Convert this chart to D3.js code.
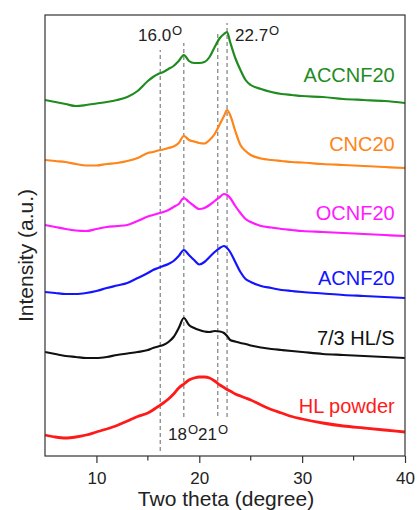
<!DOCTYPE html>
<html>
<head>
<meta charset="utf-8">
<script src="https://cdn.jsdelivr.net/npm/d3@7"></script>
<style>
  html, body { margin: 0; padding: 0; background: #fff; }
  svg { display: block; font-family: "Liberation Sans", Arial, sans-serif; }
</style>
</head>
<body>
<svg id="chart" width="417" height="510"></svg>
<script>
// Two theta grid (degree)
const twoTheta = [5,6,7,8,9,10,11,12,13,14,15,15.5,16,16.5,17,17.5,18,18.5,19,19.5,20,20.5,21,21.5,22,22.4,22.7,23,23.5,24,24.5,25,26,27,28,29,30,32,34,36,38,40];

// Offset (stacked) intensities, a.u.
const accnf20 = [356,354,352,350,351,352.5,354,356,359,365,375,379,382,384,387,390,395,401,395,393,393,394,399,409,418,422,424,414,398,386,376,371,367,364,362,361,360,359,357,356,355,353];
const cnc20   = [296,295,294,292,290.5,290.5,292,293,295,298,303,304,305.5,306.5,308,309.5,313,320,316,314.5,313,312.5,316,322,332,340,346,341,325,311,305,301,297.5,296,295,294,293.5,292,291,290,289,288];
const ocnf20  = [231,229,227,225.5,225,227,229,230,231,235,239.5,241,242.5,244,246,249,252,258,254,250,247,248,251,255,259,262,261,258,250,243,237,234,230,228.5,227,226,225,224,223,222,221,220];
const acnf20  = [164,163,162,162,163,165,168,170.5,173,178,183,186,188,190,192,195,200,206,201,196,191.5,194,199,204,208,210,208,204,194,184,177,174,170,168,166,165,164,162.5,161,160,159,158];
const hls73   = [104,102,100,99,98,98,99,101,102.5,104,106,108,109.5,111,114,119,128,138,131,128,126,124.5,124,125,124.5,123,120,116,114.5,113,112,110.5,108.5,107,106,105,104,102,101,100,99,98];
const hlPowder= [21,19,18,19,21,24,27,30.5,35,39.5,43,46,49.5,53,57,62,68,72,76,78,79,79,78,75,71,68.5,66.5,65,62,60,58,56,51,46.5,43,39.5,37,33,30,28,26,24];

const seriesNames  = ["ACCNF20","CNC20","OCNF20","ACNF20","7/3 HL/S","HL powder"];
const seriesValues = [accnf20, cnc20, ocnf20, acnf20, hls73, hlPowder];
const seriesColors = ["#1f8c1f","#ff8419","#ff1aff","#1414ff","#111111","#ff1a1a"];
const labelY       = [374, 305.5, 236, 171, 111, 43];   // label baseline, a.u.

// Reference dashed lines: [position, from, to]
const refX    = [16.2, 18.5, 21.8, 22.7];
const refFrom = [5, 39, 40, 39];
const refTo   = [406, 413, 423, 433];

const xTicks = [10, 20, 30, 40];
const xMinor = [15, 25, 35];

const margin = {left: 45, right: 12, top: 15, bottom: 54};
const W = 417, H = 510;
const x = d3.scaleLinear().domain([5, 40]).range([margin.left, W - margin.right]);
const y = d3.scaleLinear().domain([0, 441]).range([H - margin.bottom, margin.top]);

const svg = d3.select("#chart");

// dashed reference lines
svg.append("g").selectAll("line").data(refX).join("line")
  .attr("x1", d => x(d)).attr("x2", d => x(d))
  .attr("y1", (d, i) => y(refFrom[i])).attr("y2", (d, i) => y(refTo[i]))
  .attr("stroke", "#666").attr("stroke-width", 1).attr("stroke-dasharray", "4,3");

// curves
const line = d3.line().x((d, i) => x(twoTheta[i])).y(d => y(d)).curve(d3.curveMonotoneX);
svg.append("g").selectAll("path").data(seriesValues).join("path")
  .attr("d", d => line(d))
  .attr("fill", "none")
  .attr("stroke", (d, i) => seriesColors[i])
  .attr("stroke-width", (d, i) => i === 5 ? 2.8 : 2.2)
  .attr("stroke-linejoin", "round");

// series labels
svg.append("g").selectAll("text").data(seriesNames).join("text")
  .attr("x", x(39))
  .attr("y", (d, i) => y(labelY[i]))
  .attr("text-anchor", "end")
  .attr("font-size", 20)
  .attr("fill", (d, i) => seriesColors[i])
  .text(d => d);

// frame
svg.append("rect")
  .attr("x", margin.left).attr("y", margin.top)
  .attr("width", W - margin.left - margin.right)
  .attr("height", H - margin.top - margin.bottom)
  .attr("fill", "none").attr("stroke", "#333").attr("stroke-width", 1.2);

// x axis
const xAxis = svg.append("g").attr("transform", `translate(0,${H - margin.bottom})`)
  .call(d3.axisBottom(x).tickValues(xTicks).tickSize(7).tickPadding(9).tickSizeOuter(0));
xAxis.select(".domain").remove();
xAxis.selectAll("line").attr("stroke", "#333").attr("stroke-width", 1.2);
xAxis.selectAll("text").attr("font-size", 17).attr("fill", "#222")
  .attr("font-family", "'Liberation Sans', Arial, sans-serif");
svg.append("g").selectAll("line").data(xMinor).join("line")
  .attr("x1", d => x(d)).attr("x2", d => x(d))
  .attr("y1", H - margin.bottom).attr("y2", H - margin.bottom + 4.5)
  .attr("stroke", "#333").attr("stroke-width", 1.2);

// axis titles
svg.append("text").attr("x", 226).attr("y", 506).attr("text-anchor", "middle")
  .attr("font-size", 21).attr("fill", "#222").text("Two theta (degree)");
svg.append("text").attr("transform", "translate(33,255.5) rotate(-90)")
  .attr("text-anchor", "middle").attr("font-size", 21).attr("fill", "#222")
  .text("Intensity (a.u.)");

// peak annotations
function degLabel(txt, px, py) {
  const t = svg.append("text").attr("x", px).attr("y", py).attr("font-size", 17).attr("fill", "#222");
  t.append("tspan").text(txt);
  t.append("tspan").attr("font-size", 13).attr("dy", -6).attr("dx", 1).text("O");
}
degLabel("16.0", 138, 41);
degLabel("22.7", 235, 41);
degLabel("18", 168, 440);
degLabel("21", 198, 440);
</script>
</body>
</html>
